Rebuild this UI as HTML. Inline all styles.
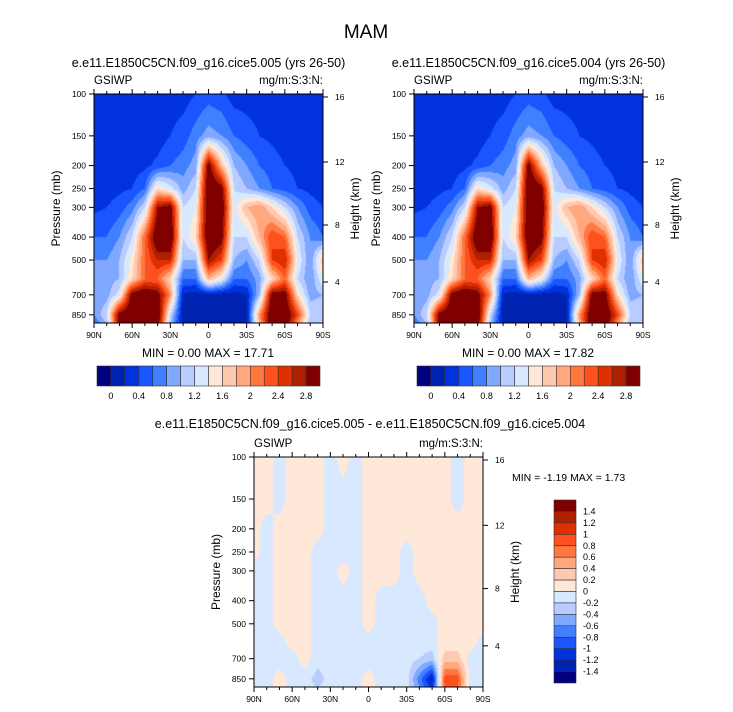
<!DOCTYPE html>
<html><head><meta charset="utf-8"><style>
body{margin:0;background:#fff;width:733px;height:712px;overflow:hidden;position:relative;font-family:"Liberation Sans",sans-serif}
canvas{position:absolute}
svg{position:absolute;left:0;top:0}
</style></head><body>
<canvas id="c1" width="229" height="229" style="left:94px;top:94px"></canvas>
<canvas id="c2" width="229" height="229" style="left:414px;top:94px"></canvas>
<canvas id="c3" width="229" height="230" style="left:254px;top:457px"></canvas>
<svg id="s" width="733" height="712"></svg>
<script>
const lats=[90,80,70,60,50,40,30,20,10,0,-10,-20,-30,-40,-50,-60,-70,-80,-90];
const levels=[100,150,200,250,300,400,500,600,700,850,925];
const field1=[
[.3,.3,.3,.3,.3,.3,.3,.3,.4,.5,.45,.3,.3,.3,.3,.3,.3,.3,.3],
[.3,.3,.3,.3,.3,.3,.4,.5,.7,.9,.8,.6,.5,.4,.35,.3,.3,.3,.3],
[.3,.3,.3,.3,.35,.45,.6,.7,.9,3,1.8,1,.8,.6,.5,.4,.35,.3,.3],
[.3,.3,.35,.4,.6,1.6,1.3,.9,1.2,3.2,3,1.2,1,.8,.6,.5,.4,.35,.3],
[.35,.4,.5,.7,1.2,2.8,3,1.2,1.4,3.2,3.2,1.3,1.8,2,1.6,1.2,.8,.5,.4],
[.6,.6,.8,1.2,2.2,3.2,3.2,1.2,1.6,3.2,3,1.2,1.2,1.8,2.4,2.2,1.2,.8,.6],
[.8,.8,1,1.5,2.2,2.6,2.6,1,1,2.8,2.4,1,.8,1.2,2.4,2.6,1.4,.8,1.8],
[.8,.9,1,1.6,2.2,2.2,1.6,.6,.6,1.8,1.4,.6,.6,.9,1.6,2.2,1.2,.8,1.4],
[.8,.9,1.3,3,3.2,3,2,.15,.1,.1,.1,.1,.2,1,3,3,1.6,.9,1],
[.8,1.2,3,3.2,3.2,3.2,1.2,.1,.1,.1,.1,.1,.1,2,3.2,3.2,2.4,1.2,1.2],
[.6,1,3,3.2,3.2,3,1,.1,.1,.1,.1,.1,.1,1.8,3.2,3.2,2,1,1]];
const fieldDiff=[
[.1,.1,-.1,.1,.1,.1,-.1,.1,-.1,.1,.1,.1,.1,.1,.1,.1,-.1,.1,.1],
[.1,.1,-.1,.1,.1,.1,-.1,-.1,-.1,.1,.1,.1,.1,.1,.1,.1,-.1,.1,.1],
[.1,-.1,.1,.1,.1,.1,-.1,-.1,-.1,.1,.1,.1,.1,.1,.1,.1,.1,.1,.1],
[.1,-.1,.1,.1,.1,-.1,-.1,-.1,-.1,.1,.1,.1,-.1,.1,.1,.1,.1,.1,.1],
[-.1,-.1,.1,.1,.1,-.1,-.1,.1,-.1,.1,.1,.1,-.1,.1,.1,.1,.1,.1,.1],
[-.1,-.1,.1,.1,.1,-.1,-.1,-.1,-.1,.1,-.1,-.1,-.1,-.1,.1,.1,.1,.1,.1],
[-.1,-.1,.1,.1,.1,-.1,-.1,-.1,-.1,.1,-.1,-.1,-.1,-.1,-.1,.1,.1,.1,.1],
[-.1,-.1,-.1,.1,.1,-.1,-.1,-.1,-.1,-.1,-.1,-.1,-.1,-.1,-.1,.1,.1,.1,-.1],
[-.1,-.1,-.1,-.1,.1,-.1,-.1,-.1,-.1,-.1,-.1,-.1,-.1,-.2,-.3,.3,.3,-.1,-.1],
[-.1,-.1,.1,-.1,-.1,-.3,-.1,-.1,-.1,.1,-.1,-.1,-.1,-.7,-1.3,.9,.9,-.1,-.1],
[-.1,-.1,.1,-.1,-.1,-.2,-.1,-.1,-.1,.1,-.1,-.1,-.1,-.6,-1.1,.8,.8,-.1,-.1]];
const colors=['#000080','#0022b0','#0033dd','#1a55ff','#4080ff','#80a8ff','#b8ccff','#d8e8ff','#ffe8d8','#ffc8b0','#ffa880','#ff7840','#ff5020','#e03000','#b02000','#800000'];
const topLabels=['0','0.4','0.8','1.2','1.6','2','2.4','2.8'];
const diffLabels=['1.4','1.2','1','0.8','0.6','0.4','0.2','0','-0.2','-0.4','-0.6','-0.8','-1','-1.2','-1.4'];
const pTicks=[100,150,200,250,300,400,500,700,850];
const hTicks=[4,8,12,16];
const hTickFrac=[0.821,0.572,0.297,0.013];
const latTicks=['90N','60N','30N','0','30S','60S','90S'];
const PBOT=920;

function hex(c){return [parseInt(c.substr(1,2),16),parseInt(c.substr(3,2),16),parseInt(c.substr(5,2),16)];}
const rgb=colors.map(hex);
function drawField(id,grid,lo){
  const cv=document.getElementById(id),ctx=cv.getContext('2d'),W=cv.width,H=cv.height;
  const img=ctx.createImageData(W,H);
  const lnT=Math.log(100),lnB=Math.log(PBOT);
  const lv=levels.map(Math.log);
  for(let y=0;y<H;y++){
    const lp=lnT+(y+0.5)/H*(lnB-lnT);
    let k=0;while(k<lv.length-2&&lp>lv[k+1])k++;
    let t=(lp-lv[k])/(lv[k+1]-lv[k]);t=Math.max(0,Math.min(1,t));
    for(let x=0;x<W;x++){
      const fi=(x+0.5)/W*(lats.length-1);const i=Math.min(lats.length-2,Math.floor(fi));const u=fi-i;
      const a=grid[k][i]*(1-u)+grid[k][i+1]*u, b=grid[k+1][i]*(1-u)+grid[k+1][i+1]*u;
      const v=a*(1-t)+b*t;
      let ci=Math.floor((v-lo)/0.2);ci=Math.max(0,Math.min(15,ci));
      const c=rgb[ci],o=(y*W+x)*4;img.data[o]=c[0];img.data[o+1]=c[1];img.data[o+2]=c[2];img.data[o+3]=255;
    }
  }
  ctx.putImageData(img,0,0);
}
drawField('c1',field1,-0.2);
drawField('c2',field1,-0.2);
drawField('c3',fieldDiff,-1.6);

const S=document.getElementById('s');const NS='http://www.w3.org/2000/svg';
function el(tag,attrs,txt){const e=document.createElementNS(NS,tag);for(const k in attrs)e.setAttribute(k,attrs[k]);if(txt!==undefined)e.textContent=txt;S.appendChild(e);return e;}
function txt(x,y,s,size,anchor,name,rot){const e=el('text',{x:x,y:y,'font-size':size,'text-anchor':anchor||'middle',fill:'#000'},s);


if(rot)e.setAttribute('transform','rotate(-90 '+x+' '+y+')');return e;}

txt(366,38,'MAM',19,'middle','main-title');
function panel(x0,y0,H,sub,pfx){
  const W=229;
  const lnT=Math.log(100),lnB=Math.log(PBOT);
  const py=p=>y0+(Math.log(p)-lnT)/(lnB-lnT)*H;
  const r=el('rect',{x:x0,y:y0,width:W,height:H,fill:'none',stroke:'#000','stroke-width':1});
  
  
  if(sub)txt(x0+W/2,y0-27,sub,12.5,'middle',pfx+'-subtitle');
  txt(x0,y0-10,'GSIWP',11.5,'start',pfx+'-variable-label');
  txt(x0+W,y0-10,'mg/m:S:3:N:',11.5,'end',pfx+'-units-label');
  pTicks.forEach(p=>{const y=py(p);
    const l=el('line',{x1:x0-5,x2:x0,y1:y,y2:y,stroke:'#000'});
    
    
    txt(x0-8,y+3,String(p),8.5,'end',pfx+'-y-tick-label');});
  txt(x0-34,y0+H/2,'Pressure (mb)',12,'middle',pfx+'-y-axis-title',true);
  hTicks.forEach((h,j)=>{const y=y0+hTickFrac[j]*H;
    const l=el('line',{x1:x0+W,x2:x0+W+5,y1:y,y2:y,stroke:'#000'});
    
    
    txt(x0+W+12,y+3,String(h),8.5,'start',pfx+'-height-tick-label');});
  txt(x0+W+36,y0+H/2,'Height (km)',12,'middle',pfx+'-height-axis-title',true);
  for(let i=0;i<=18;i++){const x=x0+i*W/18;const maj=i%3===0;
    const l=el('line',{x1:x,x2:x,y1:y0+H,y2:y0+H+(maj?5:3),stroke:'#000'});
    
    
    const l2=el('line',{x1:x,x2:x,y1:y0,y2:y0-(maj?5:3),stroke:'#000'});
    
    
    if(maj)txt(x,y0+H+15,latTicks[i/3],8.5,'middle',pfx+'-x-tick-label');}
}
panel(94,94,229,'e.e11.E1850C5CN.f09_g16.cice5.005 (yrs 26-50)','left');
panel(414,94,229,'e.e11.E1850C5CN.f09_g16.cice5.004 (yrs 26-50)','right');
panel(254,457,230,null,'diff');
txt(370,428,'e.e11.E1850C5CN.f09_g16.cice5.005 - e.e11.E1850C5CN.f09_g16.cice5.004',12.5,'middle','diff-subtitle');
txt(208,357,'MIN =   0.00  MAX =  17.71',12,'middle','left-min-max');
txt(528,357,'MIN =   0.00  MAX =  17.82',12,'middle','right-min-max');
txt(512,481,'MIN =  -1.19  MAX =   1.73',10.5,'start','diff-min-max');

function hbar(x0,pfx){const w=223/16;
  colors.forEach((c,i)=>{const r=el('rect',{x:x0+i*w,y:366,width:w,height:20,fill:c,stroke:'#333','stroke-width':0.6});
  
  });
  topLabels.forEach((s,j)=>txt(x0+(1+2*j)*w,399,s,9,'middle',pfx+'-colorbar-label'));}
hbar(97,'left');hbar(417,'right');
(function(){const x0=554,y0=500,h=183/16;
  colors.slice().reverse().forEach((c,i)=>{const r=el('rect',{x:x0,y:y0+i*h,width:22,height:h,fill:c,stroke:'#333','stroke-width':0.6});
  
  });
  diffLabels.forEach((s,j)=>txt(x0+29,y0+(j+1)*h+3,s,9,'start','diff-colorbar-label'));})();
</script>
</body></html>
